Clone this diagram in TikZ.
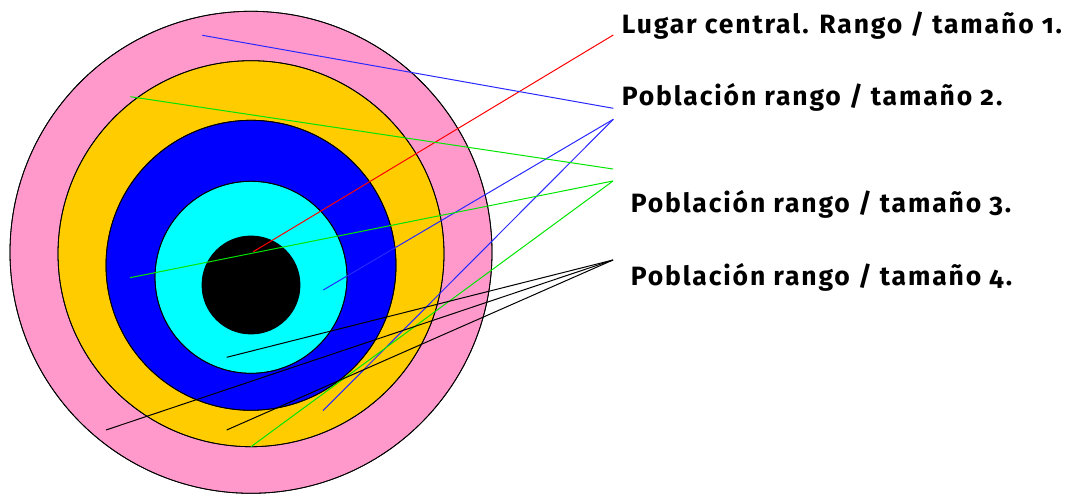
\documentclass[tikz,border=0pt]{standalone}
\usepackage{fontspec}
\setmainfont{Fira Sans}[Numbers=OldStyle]
\newfontfamily\lblfont{Fira Sans}[Numbers=OldStyle,LetterSpace=7]
\definecolor{ringpink}{RGB}{255,153,204}
\definecolor{ringyellow}{RGB}{255,204,0}
\definecolor{ringblue}{RGB}{0,0,255}
\definecolor{ringcyan}{RGB}{0,255,255}
\definecolor{lred}{RGB}{255,0,0}
\definecolor{lblue}{RGB}{40,40,255}
\definecolor{lgreen}{RGB}{0,230,0}
\begin{document}
\begin{tikzpicture}[x=1pt,y=-1pt,
  ring/.style={draw=black,line width=0.8pt},
  conn/.style={line width=1pt},
  lbl/.style={anchor=base west,inner sep=0pt,font=\lblfont\fontsize{26.5}{30}\selectfont\bfseries}]
\useasboundingbox (0,0) rectangle (1069,494);
% rings
\fill[ring,fill=ringpink] (251,252.3) circle[radius=241];
\fill[ring,fill=ringyellow] (251,253.7) circle[radius=193];
\fill[ring,fill=ringblue] (251,265.3) circle[radius=145];
\fill[ring,fill=ringcyan] (251,277.3) circle[radius=96];
\fill[ring,fill=black] (251,285) circle[radius=49];
\draw[ring] (251,252.3) circle[radius=241];
\draw[ring] (251,253.7) circle[radius=193];
\draw[ring] (251,265.3) circle[radius=145];
\draw[ring] (251,277.3) circle[radius=96];
% labels
\node[lbl] (l1) at (621.7,33.3) {Lugar central. Rango / tamaño 1.};
\node[lbl] (l2) at (621.7,106) {Población rango / tamaño 2.};
\node[lbl] (l3) at (630.7,212.7) {Población rango / tamaño 3.};
\node[lbl] (l4) at (630.7,286) {Población rango / tamaño 4.};
% label-side ends
\coordinate (e1) at (613.3,35);
\coordinate (e2a) at (613.3,108.3);
\coordinate (e2b) at (613.3,119.3);
\coordinate (e3a) at (613,169);
\coordinate (e3b) at (613,181);
\coordinate (e4) at (613,260);
% ring-side ends
\coordinate (s1) at (253.3,251.7);
\coordinate (s2a) at (202.3,35.3);
\coordinate (s2b) at (323.3,290);
\coordinate (s2c) at (323,410.7);
\coordinate (s3a) at (130.4,96.7);
\coordinate (s3b) at (130,277.7);
\coordinate (s3c) at (251,446.7);
\coordinate (s4a) at (106,430);
\coordinate (s4b) at (226.7,430);
\coordinate (s4c) at (226.7,357.3);
% connectors
\draw[conn,lred] (s1) -- (e1);
\draw[conn,lblue] (s2a) -- (e2a);
\draw[conn,lblue] (s2b) -- (e2b);
\draw[conn,lblue] (s2c) -- (e2b);
\draw[conn,lgreen] (s3a) -- (e3a);
\draw[conn,lgreen] (s3b) -- (e3b);
\draw[conn,lgreen] (s3c) -- (e3b);
\draw[conn,black] (s4a) -- (e4);
\draw[conn,black] (s4b) -- (e4);
\draw[conn,black] (s4c) -- (e4);
\end{tikzpicture}
\end{document}
